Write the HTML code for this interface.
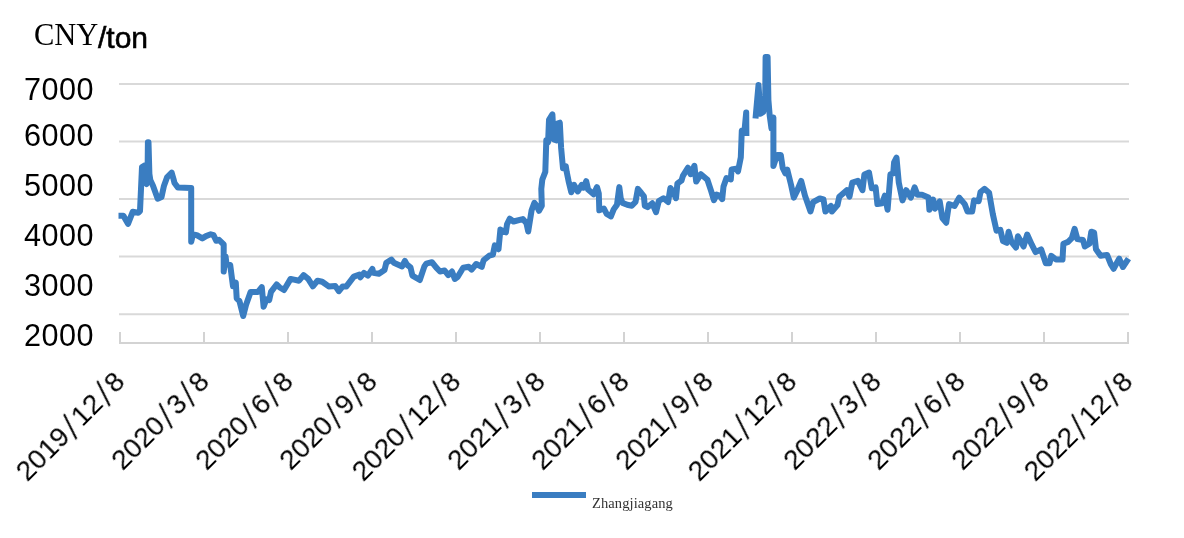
<!DOCTYPE html>
<html><head><meta charset="utf-8"><style>
html,body{margin:0;padding:0;background:#fff;}
body{width:1184px;height:538px;position:relative;overflow:hidden;}
.t{position:absolute;white-space:nowrap;line-height:1;color:#000;will-change:transform;}
.yl{font-family:"Liberation Sans",sans-serif;font-size:30.6px;letter-spacing:0.5px;}
.sl{display:inline-block;margin:0 3.9px;transform:translate(-0.3px,1.2px) scaleY(1.3) skewX(-9deg);}
.xl{font-family:"Liberation Sans",sans-serif;font-size:28px;letter-spacing:0px;transform-origin:100% 0;transform:rotate(-45deg);}
svg{position:absolute;left:0;top:0;}
</style></head><body>

<div class="t" style="left:34.3px;top:19.6px;font-family:'Liberation Serif',serif;font-size:30.5px;">CNY</div>
<div class="t" style="left:98px;top:23px;font-family:'Liberation Sans',sans-serif;font-size:30px;font-weight:normal;-webkit-text-stroke:0.6px #000;">/ton</div>
<div class="t yl" style="left:24px;top:74.2px;">7000</div>
<div class="t yl" style="left:24px;top:120.0px;">6000</div>
<div class="t yl" style="left:24px;top:170.4px;">5000</div>
<div class="t yl" style="left:24px;top:220.3px;">4000</div>
<div class="t yl" style="left:24px;top:270.1px;">3000</div>
<div class="t yl" style="left:24px;top:319.6px;">2000</div>
<div class="t xl" style="right:1073.5px;top:366.5px;">2019<span class="sl">/</span>12<span class="sl">/</span>8</div>
<div class="t xl" style="right:989.5px;top:366.5px;">2020<span class="sl">/</span>3<span class="sl">/</span>8</div>
<div class="t xl" style="right:905.5px;top:366.5px;">2020<span class="sl">/</span>6<span class="sl">/</span>8</div>
<div class="t xl" style="right:821.5px;top:366.5px;">2020<span class="sl">/</span>9<span class="sl">/</span>8</div>
<div class="t xl" style="right:737.5px;top:366.5px;">2020<span class="sl">/</span>12<span class="sl">/</span>8</div>
<div class="t xl" style="right:653.5px;top:366.5px;">2021<span class="sl">/</span>3<span class="sl">/</span>8</div>
<div class="t xl" style="right:569.5px;top:366.5px;">2021<span class="sl">/</span>6<span class="sl">/</span>8</div>
<div class="t xl" style="right:485.5px;top:366.5px;">2021<span class="sl">/</span>9<span class="sl">/</span>8</div>
<div class="t xl" style="right:401.5px;top:366.5px;">2021<span class="sl">/</span>12<span class="sl">/</span>8</div>
<div class="t xl" style="right:317.5px;top:366.5px;">2022<span class="sl">/</span>3<span class="sl">/</span>8</div>
<div class="t xl" style="right:233.5px;top:366.5px;">2022<span class="sl">/</span>6<span class="sl">/</span>8</div>
<div class="t xl" style="right:149.5px;top:366.5px;">2022<span class="sl">/</span>9<span class="sl">/</span>8</div>
<div class="t xl" style="right:65.5px;top:366.5px;">2022<span class="sl">/</span>12<span class="sl">/</span>8</div>
<svg width="1184" height="538" viewBox="0 0 1184 538">
<line x1="119" y1="83.9" x2="1129" y2="83.9" stroke="#d9d9d9" stroke-width="2"/>
<line x1="119" y1="141.5" x2="1129" y2="141.5" stroke="#d9d9d9" stroke-width="2"/>
<line x1="119" y1="199.1" x2="1129" y2="199.1" stroke="#d9d9d9" stroke-width="2"/>
<line x1="119" y1="256.6" x2="1129" y2="256.6" stroke="#d9d9d9" stroke-width="2"/>
<line x1="119" y1="314.2" x2="1129" y2="314.2" stroke="#d9d9d9" stroke-width="2"/>
<line x1="119" y1="343" x2="1129" y2="343" stroke="#d3d3d3" stroke-width="2"/>
<line x1="120" y1="332" x2="120" y2="344" stroke="#d3d3d3" stroke-width="2"/>
<line x1="204" y1="332" x2="204" y2="344" stroke="#d3d3d3" stroke-width="2"/>
<line x1="288" y1="332" x2="288" y2="344" stroke="#d3d3d3" stroke-width="2"/>
<line x1="372" y1="332" x2="372" y2="344" stroke="#d3d3d3" stroke-width="2"/>
<line x1="456" y1="332" x2="456" y2="344" stroke="#d3d3d3" stroke-width="2"/>
<line x1="540" y1="332" x2="540" y2="344" stroke="#d3d3d3" stroke-width="2"/>
<line x1="624" y1="332" x2="624" y2="344" stroke="#d3d3d3" stroke-width="2"/>
<line x1="708" y1="332" x2="708" y2="344" stroke="#d3d3d3" stroke-width="2"/>
<line x1="792" y1="332" x2="792" y2="344" stroke="#d3d3d3" stroke-width="2"/>
<line x1="876" y1="332" x2="876" y2="344" stroke="#d3d3d3" stroke-width="2"/>
<line x1="960" y1="332" x2="960" y2="344" stroke="#d3d3d3" stroke-width="2"/>
<line x1="1044" y1="332" x2="1044" y2="344" stroke="#d3d3d3" stroke-width="2"/>
<line x1="1128" y1="332" x2="1128" y2="344" stroke="#d3d3d3" stroke-width="2"/>
<path d="M118.5,215.8 L123.4,215.8 L128,223.8 L132.7,211.8 L138.2,212.7 L140,211 L142,167 L144.5,165.5 L145,182 L146.5,184 L147.6,172 L147.9,142.3 L148.5,142.3 L149.4,174 L150.3,180 L153,185.7 L157.7,198.7 L161.5,197 L164,185.7 L167,177.4 L171.7,172.7 L173.5,179 L174.5,183 L178,187.6 L191.2,188 L191.2,241.7 L193,234.3 L196.8,235.2 L202.3,238.4 L206,236.1 L210.7,234.3 L213.5,235.2 L216.3,240.8 L219,239.9 L223.7,244.5 L223.7,271.5 L225.6,256.6 L226.5,264 L230.2,265 L233,286.3 L235.8,282.6 L236.7,298.4 L239.5,301.2 L243.2,316 L246,304.9 L250.6,291.9 L258,291.9 L261.8,287.2 L263.6,306.8 L266.4,299.3 L269.2,300.2 L271,291.9 L276.6,284.5 L279.4,287.2 L284,290 L290.6,278.9 L299,280.7 L303.6,275.2 L308.2,278.9 L312.9,286.3 L317.5,280.7 L322.2,281.7 L328.7,286.4 L335.2,285.9 L338.9,291.2 L342.7,286.4 L346.4,286.4 L353.8,276.6 L359.4,274.7 L360.3,277.3 L364,272.9 L367.8,275.7 L372.4,269 L373.3,272.9 L378.9,273.8 L384.5,270.1 L386.3,262.7 L391.4,259.6 L393.8,262.7 L402.1,266.4 L404.9,261 L406.8,264.5 L410.5,267.3 L412.4,275.7 L419.8,280 L424.4,266.4 L426.3,263.6 L431.9,262.2 L436.3,267.7 L440,271.5 L444.6,270.5 L448.3,275.2 L452,271.5 L454.8,278.9 L457.6,277 L463.2,267.7 L468.8,266.8 L471.6,269.6 L476.2,264 L481.8,266.8 L483.6,260.3 L489.2,255.7 L492.9,254.7 L494.8,245.4 L498.5,249.2 L500.4,229.6 L505.9,232.4 L507,224.3 L509.7,218.7 L513.5,221.5 L522.8,219.1 L526.5,223.3 L528.2,231.5 L531.6,210.3 L534.4,202.9 L536.7,205.7 L539,210.8 L541.8,205.7 L541.3,188.9 L542.3,179.6 L545.3,171.9 L546.3,140.3 L548.1,142.2 L549,119.9 L552.4,114.3 L553.7,139.4 L556.5,140.3 L557.4,123.6 L559.8,122.7 L561.1,147.7 L563,168.2 L565.8,166.3 L566.7,171.9 L568.6,181.2 L571.3,192.3 L574.1,184.9 L577.8,191.4 L581.6,184.9 L583.4,187.7 L586.2,181.2 L588.1,189.5 L593.6,194.2 L597,187.1 L598.8,193.6 L599.3,210.3 L603.9,208.5 L606.7,214 L610.9,216.4 L613.7,209.4 L617,204.7 L619.3,187.1 L620.7,198.2 L622.5,202.9 L627.2,204.7 L631.8,205.7 L635.5,202 L637.9,188.9 L641.1,192.7 L643.9,196.4 L644.8,205.7 L647.6,207.1 L652.3,203.3 L656,212.2 L658.8,201 L663.4,198.2 L668.1,202 L670.4,188 L673.6,192.7 L676,198.2 L677.4,183.4 L681.5,180.6 L682.9,175.9 L687.9,167.7 L690.6,174.2 L694.4,165.8 L696.2,181.6 L700.9,174.2 L707.4,179.7 L711.1,190.9 L713.9,200.2 L716.6,194.6 L719.4,195.5 L722.2,199.2 L723.5,186.5 L726.5,178 L730.8,179.5 L731.6,169.5 L736.2,168.6 L738,171.4 L740.8,157.4 L741.8,130.5 L744.6,129.5 L746.2,112.5 L746.4,136 M755.5,118.5 L758.5,85 L760.4,113.7 L763.2,111.9 L765.2,100 L765.6,57 L767.6,57 L768.4,100 L769.7,115.6 L771.5,128.6 L773.4,117.5 L773.4,166 L777.1,154.9 L780.8,154.9 L782.7,167.9 L785.4,173.4 L787.3,169.7 L791,184.6 L793.8,197.6 L796.6,192 L801.2,180.9 L805,195.7 L810.5,211.5 L813.1,202.2 L819.8,198.5 L823.5,199.5 L825.4,211.5 L831,206 L831.9,211.5 L837.5,205 L839.3,196.7 L846.8,190.2 L849.5,196.7 L852.3,182.7 L857.9,180.9 L862.5,190.2 L864.4,174.4 L869,172.5 L871.8,188.3 L875.6,187.4 L877.4,204.1 L882.1,203.2 L884.8,195.7 L887.6,209.7 L890.4,174.4 L893.2,173.4 L894.1,162.3 L896.5,157.7 L898.8,182.7 L902.5,200.4 L906.2,190.2 L910.9,197.6 L914.6,187.4 L917.4,194.8 L922,194.8 L928.5,197.6 L929.4,209.7 L933.1,199.5 L935,208.7 L939.7,201.3 L942.4,218 L946.2,222.7 L949,204.1 L954.5,206 L959.2,197.6 L964.7,204.1 L967.5,211.5 L972.2,211.5 L974,200.4 L978.7,201.3 L980.5,192 L984.5,188.9 L989.1,192.7 L992.8,214 L996.5,230.7 L1000.3,229.8 L1003,241 L1006.8,242.8 L1008.6,231.7 L1011.4,241.9 L1016,247.5 L1017.9,236.3 L1020.7,241 L1023.5,246.5 L1027.2,234.5 L1031.8,244.7 L1035.6,252.1 L1041.1,249.3 L1045.8,263.3 L1049.5,263.3 L1051.3,255.8 L1056,259.5 L1062.5,259.5 L1063.4,243.7 L1068.1,241.9 L1071.8,238.2 L1074.6,228.9 L1077.4,239.1 L1083,240 L1084.8,246.5 L1089.4,243.7 L1091.3,231.7 L1094.1,232.6 L1096,249.3 L1100.6,255.8 L1107.1,254.9 L1110.8,264.2 L1113.6,268.8 L1119.2,258.6 L1122.9,267 L1128.5,258.6" fill="none" stroke="#3a7dc1" stroke-width="6.0" stroke-linejoin="round" stroke-linecap="butt"/>
<rect x="532" y="492" width="54" height="6" fill="#3a7dc1"/>
</svg>
<div class="t" style="left:592px;top:496px;font-family:'Liberation Serif',serif;font-size:14.5px;letter-spacing:0.1px;color:#333;">Zhangjiagang</div>
</body></html>
